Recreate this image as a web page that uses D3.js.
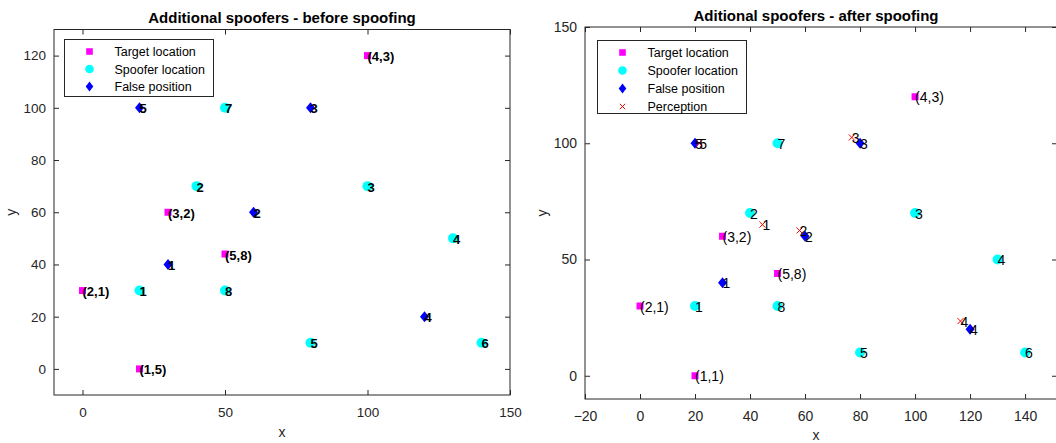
<!DOCTYPE html>
<html>
<head>
<meta charset="utf-8">
<script src="https://cdn.jsdelivr.net/npm/d3@7"></script>
<style>
  body { margin: 0; background: #fff; }
  svg { display: block; font-family: "Liberation Sans", Arial, sans-serif; }
</style>
</head>
<body>
<script>
// target locations (magenta squares)
var targetX = [0, 20, 30, 50, 100];
var targetY = [30, 0, 60, 44, 120];
var targetLabelsBefore = ["(2,1)", "(1,5)", "(3,2)", "(5,8)", "(4,3)"];
var targetLabelsAfter = ["(2,1)", "(1,1)", "(3,2)", "(5,8)", "(4,3)"];

// spoofer locations (cyan circles)
var spooferX = [20, 40, 100, 130, 80, 140, 50, 50];
var spooferY = [30, 70, 70, 50, 10, 10, 100, 30];
var spooferLabels = ["1", "2", "3", "4", "5", "6", "7", "8"];

// false positions (blue diamonds)
var falseX = [30, 60, 80, 120, 20];
var falseY = [40, 60, 100, 20, 100];
var falseLabels = ["1", "2", "3", "4", "5"];

// perceived positions (red crosses), after spoofing only
var perceptionX = [44.5, 58, 77, 116.5, 21.5];
var perceptionY = [65, 62.5, 102.5, 23.5, 100];
var perceptionLabels = ["1", "2", "3", "4", "5"];

// axes
var leftXDomain = [-10, 150], leftYDomain = [-10, 130];
var leftXTicks = [0, 50, 100, 150], leftYTicks = [0, 20, 40, 60, 80, 100, 120];
var rightXDomain = [-20, 151.6], rightYDomain = [-10, 150];
var rightXTicks = [-20, 0, 20, 40, 60, 80, 100, 120, 140], rightYTicks = [0, 50, 100, 150];

var width = 1056;
var height = 443;
var axisColor = "#262626";

var svg = d3.select("body")
  .append("svg")
  .attr("width", width)
  .attr("height", height);

svg.append("rect").attr("width", width).attr("height", height).attr("fill", "#fff");

function zip(xs, ys, labels) {
  return xs.map(function(x, i) {
    return { x: x, y: ys[i], label: labels ? labels[i] : "" };
  });
}

var squarePath = "M-3.5,-3.5H3.5V3.5H-3.5Z";
var diamondPath = "M0,-5.5L4.5,0L0,5.5L-4.5,0Z";
var crossPath = "M-3,-3L3,3M-3,3L3,-3";

function drawPanel(opts) {
  var box = opts.box;
  var xScale = d3.scaleLinear().domain(opts.xDomain).range([box.left, box.right]);
  var yScale = d3.scaleLinear().domain(opts.yDomain).range([box.bottom, box.top]);

  var g = svg.append("g");

  // ticks on all four sides, pointing inward
  var tickLen = 5;
  g.append("g").attr("transform", "translate(0," + box.bottom + ")")
    .call(d3.axisBottom(xScale).tickValues(opts.xTicks).tickSize(-tickLen).tickPadding(12).tickFormat(d3.format("d")));
  g.append("g").attr("transform", "translate(0," + box.top + ")")
    .call(d3.axisTop(xScale).tickValues(opts.xTicks).tickSize(-tickLen).tickFormat(""));
  g.append("g").attr("transform", "translate(" + box.left + ",0)")
    .call(d3.axisLeft(yScale).tickValues(opts.yTicks).tickSize(-tickLen).tickPadding(8).tickFormat(d3.format("d")));
  g.append("g").attr("transform", "translate(" + box.right + ",0)")
    .call(d3.axisRight(yScale).tickValues(opts.yTicks).tickSize(-tickLen).tickFormat(""));

  g.selectAll(".domain").remove();
  g.selectAll(".tick line").attr("stroke", axisColor);
  g.selectAll(".tick text")
    .attr("fill", axisColor)
    .style("font-size", opts.tickFont)
    .style("font-family", "Liberation Sans, Arial, sans-serif");

  g.append("rect")
    .attr("x", box.left).attr("y", box.top)
    .attr("width", box.right - box.left).attr("height", box.bottom - box.top)
    .attr("fill", "none").attr("stroke", axisColor).attr("stroke-width", 1);

  // title and axis labels
  g.append("text")
    .attr("x", (box.left + box.right) / 2 - (opts.titleShift || 0))
    .attr("y", box.top - 6.5)
    .attr("text-anchor", "middle")
    .style("font-size", "15px").style("font-weight", "bold")
    .attr("fill", "#000")
    .text(opts.title);
  g.append("text")
    .attr("x", (box.left + box.right) / 2 - (opts.titleShift || 0))
    .attr("y", opts.xLabelY)
    .attr("text-anchor", "middle")
    .style("font-size", "14px")
    .attr("fill", axisColor)
    .text("x");
  g.append("text")
    .attr("transform", "translate(" + (box.left - 38) + "," + ((box.top + box.bottom) / 2) + ") rotate(-90)")
    .attr("text-anchor", "middle")
    .style("font-size", "14px")
    .attr("fill", axisColor)
    .text("y");

  // markers
  var plot = g.append("g");
  var targets = zip(targetX, targetY, opts.targetLabels);
  var spoofers = zip(spooferX, spooferY, spooferLabels);
  var falses = zip(falseX, falseY, falseLabels);
  var perceptions = opts.perception ? zip(perceptionX, perceptionY, perceptionLabels) : [];

  plot.selectAll(".target").data(targets).enter().append("path")
    .attr("d", squarePath).attr("fill", "#ff00ff")
    .attr("transform", function(d) { return "translate(" + xScale(d.x) + "," + yScale(d.y) + ")"; });
  plot.selectAll(".spoofer").data(spoofers).enter().append("circle")
    .attr("r", 5).attr("fill", "#00ffff")
    .attr("cx", function(d) { return xScale(d.x); })
    .attr("cy", function(d) { return yScale(d.y); });
  plot.selectAll(".false").data(falses).enter().append("path")
    .attr("d", diamondPath).attr("fill", "#0000ff")
    .attr("transform", function(d) { return "translate(" + xScale(d.x) + "," + yScale(d.y) + ")"; });
  plot.selectAll(".perception").data(perceptions).enter().append("path")
    .attr("d", crossPath).attr("fill", "none").attr("stroke", "#ff0000").attr("stroke-width", 1)
    .attr("transform", function(d) { return "translate(" + xScale(d.x) + "," + yScale(d.y) + ")"; });

  // point labels, starting at the marker centre
  var labels = targets.concat(spoofers, falses, perceptions);
  plot.selectAll(".lbl").data(labels).enter().append("text")
    .attr("x", function(d) { return xScale(d.x); })
    .attr("y", function(d) { return yScale(d.y) + 5.5; })
    .style("font-size", opts.labelFont)
    .style("font-weight", opts.boldLabels ? "bold" : "normal")
    .attr("fill", "#000")
    .text(function(d) { return d.label; });

  // legend
  var lg = opts.legend;
  var items = [
    { name: "Target location", kind: "square" },
    { name: "Spoofer location", kind: "circle" },
    { name: "False position", kind: "diamond" }
  ];
  if (opts.perception) items.push({ name: "Perception", kind: "cross" });
  var legend = g.append("g");
  legend.append("rect")
    .attr("x", lg.x).attr("y", lg.y).attr("width", lg.w).attr("height", lg.h)
    .attr("fill", "#fff").attr("stroke", axisColor).attr("stroke-width", 1);
  var row = legend.selectAll(".row").data(items).enter().append("g")
    .attr("transform", function(d, i) { return "translate(" + (lg.x + 25) + "," + (lg.y + 12 + i * lg.step) + ")"; });
  row.filter(function(d) { return d.kind === "square"; }).append("path")
    .attr("d", "M-3.3,-3.3H3.3V3.3H-3.3Z").attr("fill", "#ff00ff");
  row.filter(function(d) { return d.kind === "circle"; }).append("circle")
    .attr("r", 4.3).attr("fill", "#00ffff");
  row.filter(function(d) { return d.kind === "diamond"; }).append("path")
    .attr("d", "M0,-5L3.8,0L0,5L-3.8,0Z").attr("fill", "#0000ff");
  row.filter(function(d) { return d.kind === "cross"; }).append("path")
    .attr("d", "M-2.7,-2.7L2.7,2.7M-2.7,2.7L2.7,-2.7").attr("stroke", "#ff0000").attr("fill", "none");
  row.append("text")
    .attr("x", 25).attr("y", 4.5)
    .style("font-size", "12.5px")
    .attr("fill", "#000")
    .text(function(d) { return d.name; });
}

drawPanel({
  box: { left: 54, right: 510, top: 29.5, bottom: 395 },
  xDomain: leftXDomain, yDomain: leftYDomain,
  xTicks: leftXTicks, yTicks: leftYTicks,
  title: "Additional spoofers - before spoofing",
  targetLabels: targetLabelsBefore,
  boldLabels: true,
  labelFont: "13px",
  tickFont: "13.5px",
  xLabelY: 437,
  perception: false,
  legend: { x: 64.5, y: 39.5, w: 149, h: 57, step: 17.5 }
});

drawPanel({
  box: { left: 585, right: 1057, top: 27, bottom: 399 },
  xDomain: rightXDomain, yDomain: rightYDomain,
  xTicks: rightXTicks, yTicks: rightYTicks,
  titleShift: 5,
  title: "Aditional spoofers - after spoofing",
  targetLabels: targetLabelsAfter,
  boldLabels: false,
  labelFont: "14px",
  tickFont: "14px",
  xLabelY: 440,
  perception: true,
  legend: { x: 597.5, y: 40.5, w: 149, h: 73, step: 18 }
});
</script>
</body>
</html>
